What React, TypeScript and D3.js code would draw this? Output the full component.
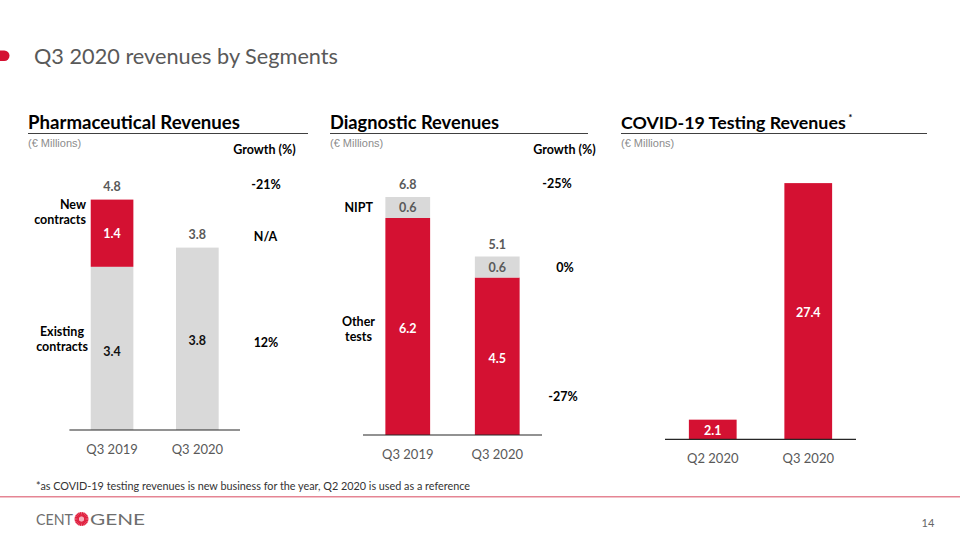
import React, { useLayoutEffect, useRef, useState } from "react";
import * as d3 from "d3";

// ---------- DATA ----------
const pharmaCategories = ["Q3 2019", "Q3 2020"];
const pharmaExisting = [3.4, 3.8];
const pharmaNew = [1.4, 0];
const pharmaGrowth = ["-21%", "N/A", "12%"];

const diagCategories = ["Q3 2019", "Q3 2020"];
const diagOther = [6.2, 4.5];
const diagNipt = [0.6, 0.6];
const diagGrowth = ["-25%", "0%", "-27%"];

const covidCategories = ["Q2 2020", "Q3 2020"];
const covidValues = [2.1, 27.4];

const RED = "#D41132";
const GRAY_BAR = "#D9D9D9";
const DARK = "#595959";
const FONT = "Lato, 'Open Sans', sans-serif";
const ARIAL = "'Liberation Sans', Arial, sans-serif";

const fmt = (v: number) => v.toFixed(1);

function PanelHeader({ x, x2, title, sup, showGrowth, growthX, titleLen }: any) {
  const ref = useRef<SVGTextElement>(null);
  const [w, setW] = useState(titleLen || 0);
  useLayoutEffect(() => {
    if (sup && ref.current) {
      const bb = ref.current.getBBox();
      setW(bb.width);
    }
  }, [sup]);
  return (
    <g>
      {sup ? (
        <text ref={ref} x={x} y={129} fontFamily={FONT} fontWeight={700} fontSize={17.8} fill="#000">{title}</text>
      ) : (
        <text x={x} y={129} fontFamily={FONT} fontWeight={700} fontSize={18.5} fill="#000"
          textLength={titleLen} lengthAdjust="spacingAndGlyphs">{title}</text>
      )}
      {sup && (
        <text x={x + w + 2.5} y={117} dominantBaseline="central" fontFamily={FONT} fontWeight={700} fontSize={9} fill="#000">*</text>
      )}
      <line x1={x} x2={x2} y1={133.5} y2={133.5} stroke="#404040" strokeWidth={1} />
      <text x={x} y={143} dominantBaseline="central" fontFamily={ARIAL} fontSize={11} fill="#8C8C8C">(€ Millions)</text>
      {showGrowth && (
        <text x={growthX} y={149} dominantBaseline="central" textAnchor="middle" fontFamily={FONT}
          fontWeight={700} fontSize={12.5} fill="#000">Growth (%)</text>
      )}
    </g>
  );
}

function CategoryAxis({ xs, y0, cats }: any) {
  const [a, b] = xs.range();
  return (
    <g>
      <line x1={a} x2={b} y1={y0} y2={y0} stroke="#262626" strokeWidth={1.2} />
      {cats.map((c: string) => (
        <text key={c} x={(xs(c) as number) + xs.bandwidth() / 2} y={y0 + 19} dominantBaseline="central"
          textAnchor="middle" fontFamily={FONT} fontSize={13} fill={DARK}>{c}</text>
      ))}
    </g>
  );
}

function Pharma() {
  const xs = d3.scaleBand<string>().domain(pharmaCategories).range([69.4, 240]).paddingInner(0.5).paddingOuter(0.25);
  const ys = d3.scaleLinear().domain([0, 5]).range([430, 190]);
  const bw = xs.bandwidth();
  const growthX = 266;
  const lblStyle = { fontFamily: FONT, fontWeight: 700, fontSize: 12.5 } as const;
  return (
    <g>
      <PanelHeader x={28} x2={308} title="Pharmaceutical Revenues" showGrowth growthX={264.5} titleLen={212} />
      {pharmaCategories.map((c, i) => {
        const x = xs(c) as number;
        const total = pharmaExisting[i] + pharmaNew[i];
        return (
          <g key={c}>
            <rect x={x} width={bw} y={ys(pharmaExisting[i])} height={ys(0) - ys(pharmaExisting[i])} fill={GRAY_BAR} />
            {pharmaNew[i] > 0 && (
              <rect x={x} width={bw} y={ys(total)} height={ys(pharmaExisting[i]) - ys(total)} fill={RED} />
            )}
            <text x={x + bw / 2} y={ys(total) - 13} dominantBaseline="central" textAnchor="middle" {...lblStyle} fill={DARK}>{fmt(total)}</text>
            {pharmaNew[i] > 0 && (
              <text x={x + bw / 2} y={ys(pharmaExisting[i] + pharmaNew[i] / 2)} dominantBaseline="central" textAnchor="middle" {...lblStyle} fill="#fff">{fmt(pharmaNew[i])}</text>
            )}
            <text x={x + bw / 2} y={ys(pharmaExisting[i] / 2) + (i === 0 ? 3 : 2)} dominantBaseline="central" textAnchor="middle" {...lblStyle} fill="#111">{fmt(pharmaExisting[i])}</text>
          </g>
        );
      })}
      <CategoryAxis xs={xs} y0={430} cats={pharmaCategories} />
      <text x={86} y={204} dominantBaseline="central" textAnchor="end" {...lblStyle} fill="#000">New</text>
      <text x={86} y={219.5} dominantBaseline="central" textAnchor="end" {...lblStyle} fill="#000">contracts</text>
      <text x={84} y={331.5} dominantBaseline="central" textAnchor="end" {...lblStyle} fill="#000">Existing</text>
      <text x={88} y={346} dominantBaseline="central" textAnchor="end" {...lblStyle} fill="#000">contracts</text>
      <text x={growthX} y={ys(pharmaExisting[0] + pharmaNew[0]) - 15} dominantBaseline="central" textAnchor="middle" {...lblStyle} fill="#000">{pharmaGrowth[0]}</text>
      <text x={growthX - 0.5} y={ys(pharmaExisting[0] + pharmaNew[0] / 2) + 3.5} dominantBaseline="central" textAnchor="middle" {...lblStyle} fill="#000">{pharmaGrowth[1]}</text>
      <text x={growthX} y={ys(pharmaExisting[1] / 2) + 4} dominantBaseline="central" textAnchor="middle" {...lblStyle} fill="#000">{pharmaGrowth[2]}</text>
    </g>
  );
}

function Diagnostic() {
  const xs = d3.scaleBand<string>().domain(diagCategories).range([363, 542]).paddingInner(0.5).paddingOuter(0.25);
  const ys = d3.scaleLinear().domain([0, 7]).range([435, 190]);
  const bw = xs.bandwidth();
  const lblStyle = { fontFamily: FONT, fontWeight: 700, fontSize: 12.5 } as const;
  return (
    <g>
      <PanelHeader x={330} x2={588} title="Diagnostic Revenues" showGrowth growthX={564.5} titleLen={169} />
      {diagCategories.map((c, i) => {
        const x = xs(c) as number;
        const total = diagOther[i] + diagNipt[i];
        return (
          <g key={c}>
            <rect x={x} width={bw} y={ys(diagOther[i])} height={ys(0) - ys(diagOther[i])} fill={RED} />
            <rect x={x} width={bw} y={ys(total)} height={ys(diagOther[i]) - ys(total)} fill={GRAY_BAR} />
            <text x={x + bw / 2} y={ys(total) - 12.5} dominantBaseline="central" textAnchor="middle" {...lblStyle} fill={DARK}>{fmt(total)}</text>
            <text x={x + bw / 2} y={ys(diagOther[i] + diagNipt[i] / 2)} dominantBaseline="central" textAnchor="middle" {...lblStyle} fill={DARK}>{fmt(diagNipt[i])}</text>
            <text x={x + bw / 2} y={ys(diagOther[i] / 2) + 2} dominantBaseline="central" textAnchor="middle" {...lblStyle} fill="#fff">{fmt(diagOther[i])}</text>
          </g>
        );
      })}
      <CategoryAxis xs={xs} y0={435} cats={diagCategories} />
      <text x={373} y={207.5} dominantBaseline="central" textAnchor="end" {...lblStyle} fill="#000">NIPT</text>
      <text x={375} y={321} dominantBaseline="central" textAnchor="end" {...lblStyle} fill="#000">Other</text>
      <text x={372} y={336.5} dominantBaseline="central" textAnchor="end" {...lblStyle} fill="#000">tests</text>
      <text x={557} y={ys(diagOther[0] + diagNipt[0]) - 14} dominantBaseline="central" textAnchor="middle" {...lblStyle} fill="#000">{diagGrowth[0]}</text>
      <text x={565} y={ys(diagOther[1] + diagNipt[1] / 2)} dominantBaseline="central" textAnchor="middle" {...lblStyle} fill="#000">{diagGrowth[1]}</text>
      <text x={563} y={ys(diagOther[1] / 2) + 40} dominantBaseline="central" textAnchor="middle" {...lblStyle} fill="#000">{diagGrowth[2]}</text>
    </g>
  );
}

function Covid() {
  const xs = d3.scaleBand<string>().domain(covidCategories).range([665, 856]).paddingInner(0.5).paddingOuter(0.25);
  const ys = d3.scaleLinear().domain([0, 28]).range([439.3, 177.5]);
  const bw = xs.bandwidth();
  const lblStyle = { fontFamily: FONT, fontWeight: 700, fontSize: 12.5 } as const;
  return (
    <g>
      <PanelHeader x={621} x2={927} title="COVID-19 Testing Revenues" sup titleLen={226} />
      {covidCategories.map((c, i) => {
        const x = xs(c) as number;
        return (
          <g key={c}>
            <rect x={x} width={bw} y={ys(covidValues[i])} height={ys(0) - ys(covidValues[i])} fill={RED} />
            <text x={x + bw / 2} y={ys(covidValues[i] / 2) + 1} dominantBaseline="central" textAnchor="middle" {...lblStyle} fill="#fff">{fmt(covidValues[i])}</text>
          </g>
        );
      })}
      <CategoryAxis xs={xs} y0={439.3} cats={covidCategories} />
    </g>
  );
}

function Logo() {
  const cx = 81.5, cy = 519, rays = d3.range(22);
  return (
    <g>
      <text x={36} y={525} fontFamily={FONT} fontWeight={400} fontSize={16} fill="#6E6E6E"
        textLength={37} lengthAdjust="spacingAndGlyphs">CENT</text>
      <g>
        {rays.map((r) => {
          const a = (r / rays.length) * Math.PI * 2;
          return (
            <line key={r} x1={cx + Math.cos(a) * 2.5} y1={cy + Math.sin(a) * 2.5} x2={cx + Math.cos(a) * 7} y2={cy + Math.sin(a) * 7}
              stroke="#E0203F" strokeWidth={1.6} />
          );
        })}
        <circle cx={cx} cy={cy} r={2.5} fill="#F5B0BC" />
      </g>
      <text x={90} y={525} fontFamily={FONT} fontWeight={400} fontSize={16} fill="#6E6E6E"
        textLength={55} lengthAdjust="spacingAndGlyphs">GENE</text>
    </g>
  );
}

export default function App() {
  return (
    <svg width={960} height={540} style={{ position: "absolute", left: 0, top: 0, background: "#fff" }}>
      <rect x={0} y={0} width={960} height={540} fill="#fff" />
      <rect x={-10} y={50.5} width={19.5} height={10.5} rx={5.2} fill={RED} />
      <text x={34} y={63.5} fontFamily={FONT} fontSize={22} fill="#595959" textLength={304} lengthAdjust="spacingAndGlyphs">Q3 2020 revenues by Segments</text>
      <Pharma />
      <Diagnostic />
      <Covid />
      <text x={36} y={485} dominantBaseline="central" fontFamily={FONT} fontSize={11} fill="#333" textLength={434} lengthAdjust="spacingAndGlyphs">*as COVID-19 testing revenues is new business for the year, Q2 2020 is used as a reference</text>
      <line x1={0} x2={960} y1={496.8} y2={496.8} stroke="#E58594" strokeWidth={1.6} />
      <Logo />
      <text x={928} y={522} dominantBaseline="central" textAnchor="middle" fontFamily={FONT} fontSize={11} fill="#666">14</text>
    </svg>
  );
}
